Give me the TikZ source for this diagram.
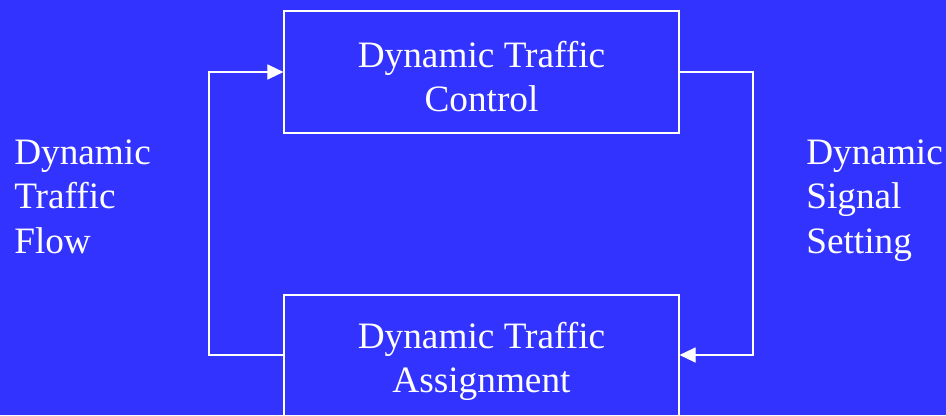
\documentclass[tikz,border=0pt]{standalone}
\usepackage{fontspec}
\setmainfont{Liberation Serif}
\usetikzlibrary{arrows.meta,calc}
\definecolor{slideblue}{HTML}{3333FF}

\tikzset{
  box/.style={draw=white, line width=0.8pt, minimum width=395*0.025cm, inner sep=0pt},
  lbl/.style={text=white, font=\fontsize{26.5}{31.3}\selectfont},
  side/.style={lbl, align=left, anchor=base west, inner sep=0pt},
  link/.style={white, line width=0.8pt, -{Triangle[length=11.5pt, width=10.8pt]}}
}

\begin{document}
\begin{tikzpicture}[x=0.025cm, y=-0.025cm]
  % Background and frame
  \fill[slideblue] (0,0) rectangle (946,415);
  \useasboundingbox (0,0) rectangle (946,415);
  \clip (0,0) rectangle (946,415);

  % Boxes
  \node[box, minimum height=122*0.025cm] (ctrl) at (481.5,72) {};
  \node[lbl, align=center] (ctrltxt) at (481.5,77) {Dynamic Traffic\\Control};

  \node[box, minimum height=122*0.025cm] (assign) at (481.5,356) {};
  \node[lbl, align=center] (assigntxt) at (481.5,361) {Dynamic Traffic\\Assignment};

  % Side labels (anchored at the last baseline)
  \node[side] (flow) at (14,253) {Dynamic\\Traffic\\Flow};
  \node[side] (signal) at (806,253) {Dynamic\\Signal\\Setting};

  % Feedback loop
  \coordinate (lb) at (209,355);
  \coordinate (lt) at (209,72);
  \coordinate (rt) at (753,72);
  \coordinate (rb) at (753,355);
  \draw[link] (assign.west |- lb) -- (lb) -- (lt) -- (ctrl.west);
  \draw[link] (ctrl.east) -- (rt) -- (rb) -- (assign.east |- rb);
\end{tikzpicture}
\end{document}
